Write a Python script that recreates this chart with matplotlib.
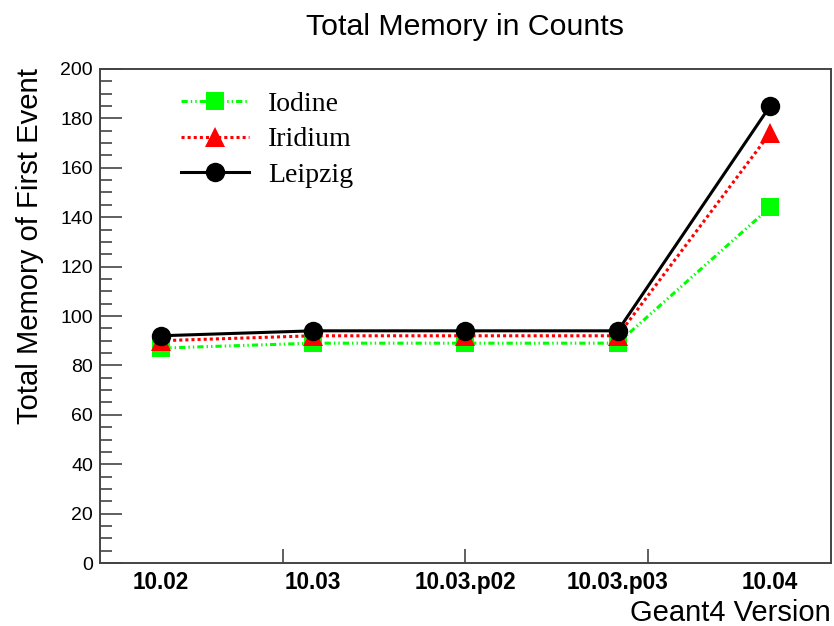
import matplotlib
matplotlib.use("Agg")
import matplotlib.pyplot as plt
from matplotlib.ticker import MultipleLocator, FixedLocator, NullFormatter

plt.rcParams['lines.scale_dashes'] = False

versions = ["10.02", "10.03", "10.03.p02", "10.03.p03", "10.04"]
iodine = [87, 89, 89, 89, 144]
iridium = [90, 92, 92, 92, 174]
leipzig = [92, 94, 94, 94, 185]

fig = plt.figure(figsize=(8.34, 6.26), dpi=100)
ax = fig.add_axes([0.1199, 0.1006, 0.9964 - 0.1199, 0.8898 - 0.1006])

x = list(range(len(versions)))
ax.plot(x, iodine, color='#00ff00', lw=2.2, linestyle=(0, (4.5, 2.2, 1.0, 2.2, 1.0, 2.2)),
        marker='s', markersize=13, markeredgewidth=0, label='Iodine')
ax.plot(x, iridium, color='#ff0000', lw=2.2, linestyle=(0, (2.2, 2.2)),
        marker='^', markersize=14, markeredgewidth=0, label='Iridium')
ax.plot(x, leipzig, color='black', lw=2.2, linestyle='-',
        marker='o', markersize=14, markeredgewidth=0, label='Leipzig')

ax.set_xlim(-0.4, 4.4)
ax.set_ylim(0, 200)

for s in ax.spines.values():
    s.set_color('#444444')
    s.set_linewidth(1.4)

ax.yaxis.set_major_locator(MultipleLocator(20))
ax.yaxis.set_minor_locator(MultipleLocator(5))
ax.tick_params(axis='y', which='major', direction='in', length=16, width=1.2, color='#444444',
               labelsize=14, pad=5)
ax.tick_params(axis='y', which='minor', direction='in', length=8.5, width=1.2, color='#444444')
for lbl in ax.get_yticklabels():
    lbl.set_fontfamily('Liberation Sans')

ax.xaxis.set_major_locator(FixedLocator([0.8, 2.0, 3.2]))
ax.xaxis.set_major_formatter(NullFormatter())
ax.tick_params(axis='x', which='major', direction='in', length=10, width=1.2, color='#444444')
for xi, v in zip(x, versions):
    ax.text(xi, -0.016, v, transform=ax.get_xaxis_transform(), ha='center', va='top',
            fontsize=16.3, fontweight='bold', family='Liberation Sans')

fig.text(0.5575, 0.957, "Total Memory in Counts", ha='center', va='center',
         fontsize=21.8, family='Liberation Sans')
fig.text(0.036, 0.892, "Total Memory of First Event", rotation=90, ha='center', va='top',
         fontsize=21.1, family='Liberation Sans')
fig.text(0.9964, 0.021, "Geant4 Version", ha='right', va='center',
         fontsize=21, family='Liberation Sans')

leg = ax.legend(loc='upper left', bbox_to_anchor=(0.095, 0.977), frameon=False,
                prop={'family': 'Liberation Serif', 'size': 20}, handlelength=2.45,
                handletextpad=0.7, labelspacing=0.36, borderaxespad=0)

fig.savefig("out.png", dpi=100)
